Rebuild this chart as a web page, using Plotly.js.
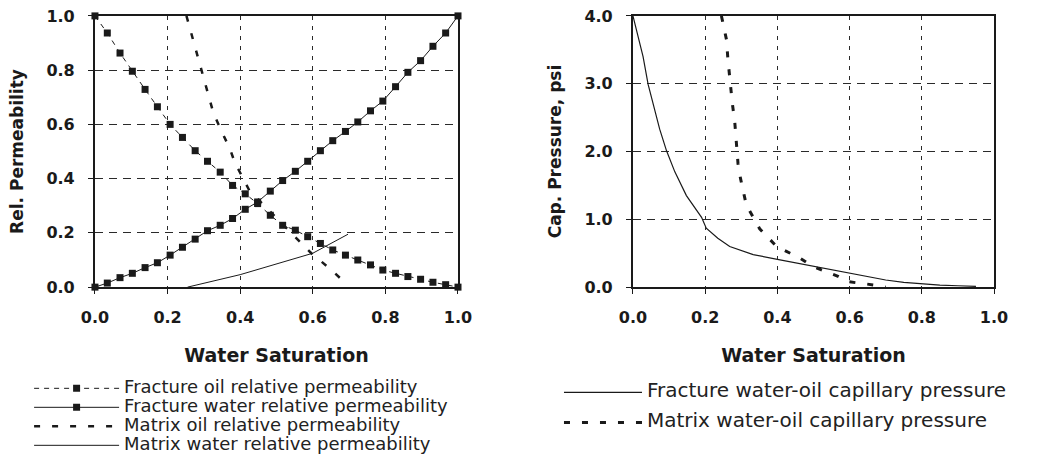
<!DOCTYPE html>
<html>
<head>
<meta charset="utf-8">
<script src="https://cdn.plot.ly/plotly-3.0.1.min.js"></script>
<style>html,body{margin:0;padding:0;background:#fff;}#chart{width:1039px;height:460px;}</style>
</head>
<body>
<div id="chart"></div>
<script>
// Left panel: relative permeability
const swFrac = [0, 0.034, 0.069, 0.103, 0.138, 0.172, 0.207, 0.241, 0.276, 0.31, 0.345, 0.379, 0.414, 0.448, 0.483, 0.517, 0.552, 0.586, 0.621, 0.655, 0.69, 0.724, 0.759, 0.793, 0.828, 0.862, 0.897, 0.931, 0.966, 1.0];
const krFracOil = [1.0, 0.937, 0.863, 0.796, 0.729, 0.665, 0.60, 0.552, 0.503, 0.464, 0.424, 0.375, 0.344, 0.308, 0.265, 0.228, 0.21, 0.186, 0.161, 0.137, 0.118, 0.10, 0.082, 0.063, 0.051, 0.039, 0.029, 0.018, 0.009, 0.0];
const krFracWater = [0, 0.015, 0.035, 0.051, 0.072, 0.09, 0.118, 0.147, 0.177, 0.208, 0.228, 0.253, 0.287, 0.314, 0.354, 0.393, 0.427, 0.464, 0.503, 0.54, 0.574, 0.609, 0.65, 0.686, 0.739, 0.792, 0.835, 0.888, 0.937, 1.0];
const swMatOil = [0.252, 0.27, 0.286, 0.30, 0.314, 0.326, 0.344, 0.372, 0.385, 0.404, 0.425, 0.463, 0.50, 0.55, 0.596, 0.65, 0.694];
const krMatOil = [1.0, 0.912, 0.833, 0.772, 0.705, 0.643, 0.588, 0.509, 0.46, 0.411, 0.357, 0.305, 0.255, 0.19, 0.125, 0.065, 0.01];
const swMatWater = [0.255, 0.4, 0.6, 0.697];
const krMatWater = [0.0, 0.046, 0.125, 0.195];

// Right panel: capillary pressure (psi)
const swPcFrac = [0.0, 0.014, 0.028, 0.042, 0.055, 0.074, 0.093, 0.116, 0.148, 0.19, 0.203, 0.235, 0.268, 0.333, 0.40, 0.48, 0.55, 0.60, 0.65, 0.70, 0.75, 0.80, 0.85, 0.90, 0.95];
const pcFrac = [4.0, 3.70, 3.40, 2.99, 2.72, 2.33, 2.01, 1.70, 1.35, 1.03, 0.87, 0.72, 0.60, 0.48, 0.41, 0.33, 0.26, 0.205, 0.15, 0.105, 0.07, 0.045, 0.03, 0.02, 0.01];
const swPcMat = [0.245, 0.259, 0.263, 0.268, 0.275, 0.282, 0.287, 0.291, 0.298, 0.314, 0.351, 0.398, 0.462, 0.50, 0.568, 0.596, 0.67, 0.70];
const pcMat = [4.0, 3.65, 3.36, 3.04, 2.72, 2.43, 2.13, 1.82, 1.60, 1.21, 0.86, 0.60, 0.43, 0.30, 0.16, 0.08, 0.03, 0.0];

const xTickVals = [0, 0.2, 0.4, 0.6, 0.8, 1.0];
const names = [
  'Fracture oil relative permeability',
  'Fracture water relative permeability',
  'Matrix oil relative permeability',
  'Matrix water relative permeability',
  'Fracture water-oil capillary pressure',
  'Matrix water-oil capillary pressure'
];
const xTitle = 'Water Saturation';
const yTitleLeft = 'Rel. Permeability';
const yTitleRight = 'Cap. Pressure, psi';

const ink = '#1a1a1a';
const lg = (s, px) => '<span style="font-size:' + px + 'px">' + s + '</span>';

const traces = [
  {x: swFrac, y: krFracOil, name: lg(names[0], 18), xaxis: 'x', yaxis: 'y', mode: 'lines+markers', cliponaxis: false,
   line: {color: ink, width: 1, dash: '5px,5px'}, marker: {symbol: 'square', size: 7, color: ink}, legend: 'legend'},
  {x: swFrac, y: krFracWater, name: lg(names[1], 18), xaxis: 'x', yaxis: 'y', mode: 'lines+markers', cliponaxis: false,
   line: {color: ink, width: 1}, marker: {symbol: 'square', size: 7, color: ink}, legend: 'legend'},
  {x: swMatOil, y: krMatOil, name: lg(names[2], 18), xaxis: 'x', yaxis: 'y', mode: 'lines', cliponaxis: false,
   line: {color: ink, width: 2.5, dash: '6px,12px'}, legend: 'legend'},
  {x: swMatWater, y: krMatWater, name: lg(names[3], 18), xaxis: 'x', yaxis: 'y', mode: 'lines', cliponaxis: false,
   line: {color: ink, width: 1}, legend: 'legend'},
  {x: swPcFrac, y: pcFrac, name: lg(names[4], 20), xaxis: 'x2', yaxis: 'y2', mode: 'lines', cliponaxis: false,
   line: {color: ink, width: 1.2}, legend: 'legend2', legendgroup: 'a'},
  {x: swPcMat, y: pcMat, name: lg(names[5], 20), xaxis: 'x2', yaxis: 'y2', mode: 'lines', cliponaxis: false,
   line: {color: ink, width: 3, dash: '6px,12px'}, legend: 'legend2', legendgroup: 'b'}
];

const tickFont = {family: 'DejaVu Sans', size: 16, weight: 'bold', color: ink};
const xTitleFont = {family: 'DejaVu Sans', size: 19, weight: 'bold', color: ink};
const yTitleFont = {family: 'DejaVu Sans', size: 17, weight: 'bold', color: ink};

function xAxis(domain, anchor) {
  return {domain: domain, anchor: anchor, range: [0, 1], tickvals: xTickVals, tickformat: '.1f',
    showline: true, mirror: true, linecolor: ink, linewidth: 2, ticks: 'outside', ticklen: 5, tickcolor: ink,
    tickfont: tickFont, ticklabelstandoff: 10, showgrid: true, gridcolor: '#2a2a2a', gridwidth: 1, griddash: '4px,6px',
    zeroline: false, title: {text: xTitle, font: xTitleFont, standoff: 22}};
}
function yAxis(range, dtick, title, anchor) {
  return {domain: [0.3717, 0.9652], anchor: anchor, range: range, dtick: dtick, tickformat: '.1f',
    showline: true, mirror: true, linecolor: ink, linewidth: 2, ticks: 'outside', ticklen: 5, tickcolor: ink,
    tickfont: tickFont, ticklabelstandoff: 10, showgrid: true, gridcolor: '#2a2a2a', gridwidth: 1, griddash: '8px,6px',
    zeroline: false, title: {text: title, font: yTitleFont, standoff: 18}};
}

const layout = {
  width: 1039, height: 460,
  margin: {l: 0, r: 0, t: 0, b: 0},
  paper_bgcolor: '#ffffff', plot_bgcolor: '#ffffff',
  xaxis: xAxis([0.0914, 0.4408], 'y'),
  yaxis: yAxis([0, 1], 0.2, yTitleLeft, 'x'),
  xaxis2: xAxis([0.6092, 0.9567], 'y2'),
  yaxis2: yAxis([0, 4], 1, yTitleRight, 'x2'),
  showlegend: true,
  legend: {x: 0.028, y: 0.182, xanchor: 'left', yanchor: 'top', orientation: 'v', itemwidth: 85,
    font: {family: 'DejaVu Sans', size: 12, color: '#222'}, bgcolor: 'rgba(0,0,0,0)', borderwidth: 0, itemclick: false},
  legend2: {x: 0.538, y: 0.173, xanchor: 'left', yanchor: 'top', orientation: 'v', itemwidth: 78, tracegroupgap: 11,
    font: {family: 'DejaVu Sans', size: 12, color: '#222'}, bgcolor: 'rgba(0,0,0,0)', borderwidth: 0, itemclick: false}
};

Plotly.newPlot('chart', traces, layout, {displayModeBar: false, staticPlot: true});
</script>
</body>
</html>
